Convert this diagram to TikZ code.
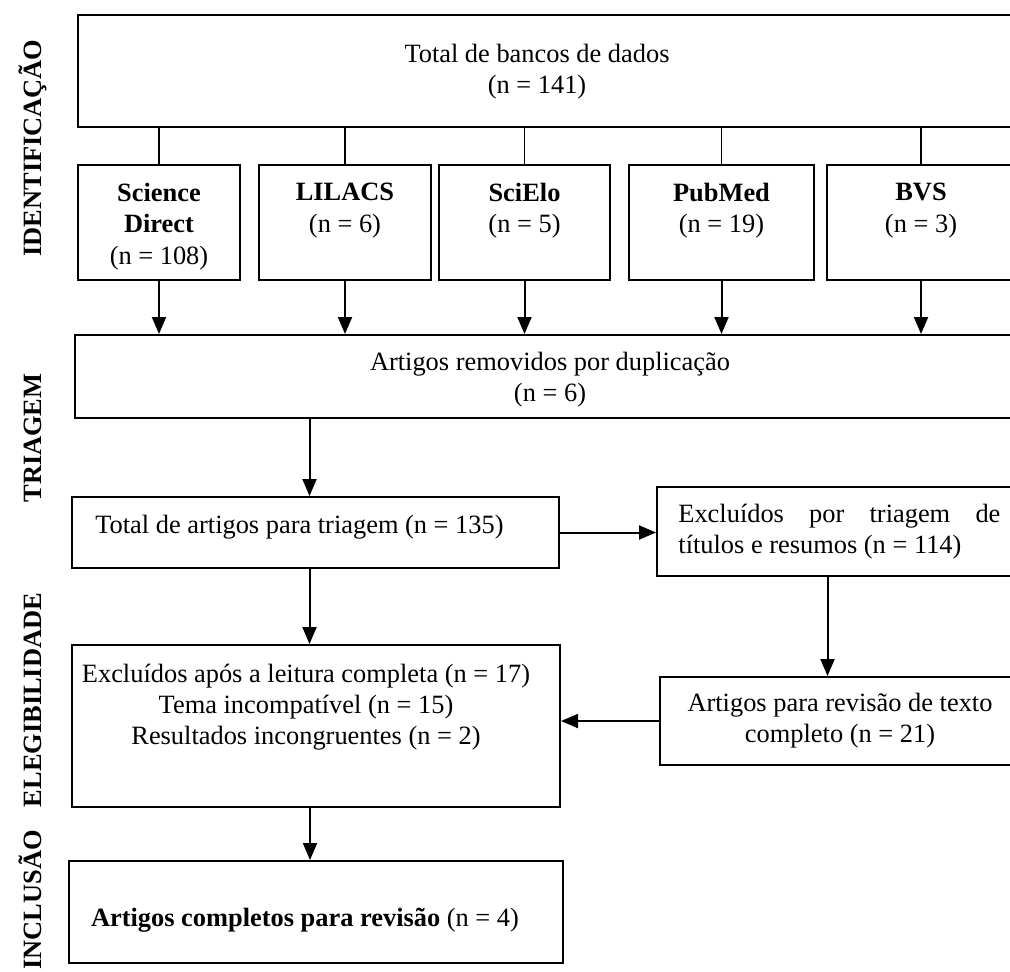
\documentclass[tikz,border=0pt]{standalone}
\usepackage{fontspec}
\setmainfont{Liberation Serif}
\usetikzlibrary{arrows.meta,fit}

\begin{document}
\begin{tikzpicture}[x=.5pt, y=-.5pt, font=\fontsize{13.2}{15.6}\selectfont, >={Triangle[length=8.5pt,width=7pt]},
	box/.style={draw, line width=1pt, inner sep=0pt},
	arr/.style={->, line width=1pt},
	lnk/.style={line width=.55pt},
	txt/.style={inner sep=0pt, align=center},
	side/.style={rotate=90, anchor=base, inner sep=0pt, font=\fontsize{13.2}{16}\selectfont\bfseries}]
	\useasboundingbox (0,0) rectangle (1010,971);
	\clip (0,0) rectangle (1010,971);
	% fases
	\node[side] (fid) at (41,148) {IDENTIFICAÇÃO};
	\node[side] (ftr) at (41,438) {TRIAGEM};
	\node[side] (fel) at (41,700) {ELEGIBILIDADE};
	\node[side] (fin) at (41,900) {INCLUSÃO};
	% identificacao
	\node[box, fit={(78,15) (1022,127)}] (tot) {};
	\node[txt] (tottxt) at (537,72) {Total de bancos de dados\\(n = 141)};
	\foreach \n/\a/\b/\t in {sd/78/240/{\textbf{Science}\\\textbf{Direct}\\(n = 108)},
		lil/259/431/{\textbf{LILACS}\\(n = 6)},
		sci/439/610/{\textbf{SciElo}\\(n = 5)},
		pub/629/814/{\textbf{PubMed}\\(n = 19)},
		bvs/827/1015/{\textbf{BVS}\\(n = 3)}}{
		\node[box, fit={(\a,165) (\b,280)}] (\n) {};
		\node[txt, anchor=north] (\n txt) at ({(\a+\b)/2},183) {\t};
	}
	% triagem
	\node[box, fit={(75,335) (1022,418)}] (dup) {};
	\node[txt] (duptxt) at (550,380) {Artigos removidos por duplicação\\(n = 6)};
	\node[box, fit={(72,497) (559,568)}] (tri) {};
	\node[txt, anchor=west] (tritxt) at (95,527) {Total de artigos para triagem (n = 135)};
	\node[box, fit={(657,487) (1022,576)}] (exc) {};
	\node[txt, align=left, anchor=west] (exctxt) at (678,531.5) {\makebox[161pt][s]{Excluídos por triagem de}\\títulos e resumos (n = 114)};
	% elegibilidade
	\node[box, fit={(660,677) (1020,765)}] (rev) {};
	\node[txt] (revtxt) at (840,721) {Artigos para revisão de texto\\completo (n = 21)};
	\node[box, fit={(72,645) (560,807)}] (lei) {};
	\node[txt] (leitxt) at (306,707) {Excluídos após a leitura completa (n = 17)\\Tema incompatível (n = 15)\\Resultados incongruentes (n = 2)};
	% inclusao
	\node[box, fit={(69,861) (563,963)}] (inc) {};
	\node[txt] (inctxt) at (305,920) {\textbf{Artigos completos para revisão} (n = 4)};
	% ligacoes
	\foreach \n in {sd,lil,sci,pub,bvs}{
		\draw[lnk] (\n.north) -- (\n.north |- tot.south);
		\draw[arr] (\n.south) -- (\n.south |- dup.north);
	}
	\draw[arr] ([xshift=-3pt]tri.north |- dup.south) -- ([xshift=-3pt]tri.north);
	\draw[arr] (tri.east) -- (tri.east -| exc.west);
	\draw[arr] ([xshift=-6pt]exc.south) -- ([xshift=-6pt]exc.south |- rev.north);
	\draw[arr] (rev.west) -- (rev.west -| lei.east);
	\draw[arr] ([xshift=-3pt]tri.south) -- ([xshift=-3pt]tri.south |- lei.north);
	\draw[arr] ([xshift=-3pt]lei.south) -- ([xshift=-3pt]lei.south |- inc.north);
\end{tikzpicture}
\end{document}
